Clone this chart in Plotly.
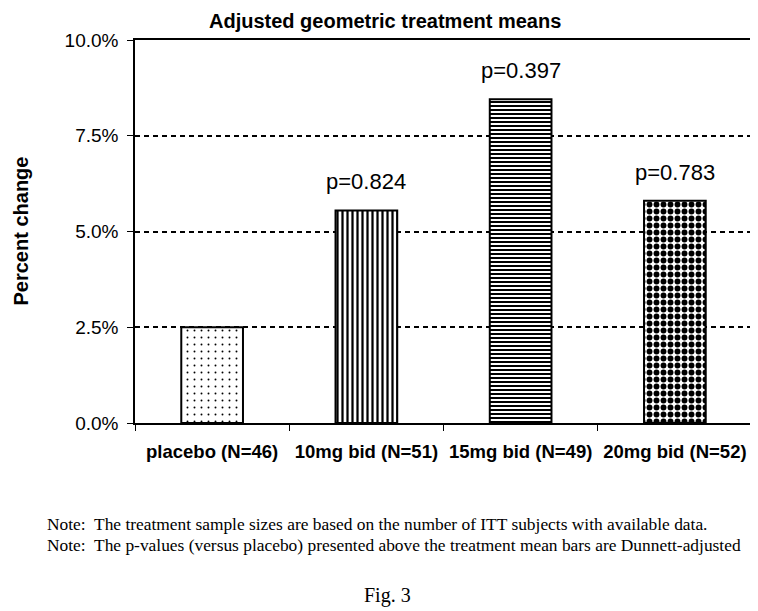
import plotly.graph_objects as go

# values
groups = ["placebo (N=46)", "10mg bid (N=51)", "15mg bid (N=49)", "20mg bid (N=52)"]
means = [2.5, 5.55, 8.45, 5.8]
pvals = ["", "p=0.824", "p=0.397", "p=0.783"]
yticks = [0, 2.5, 5.0, 7.5, 10.0]
ytext = ["%.1f%%" % v for v in yticks]
notes = [
    "Note:  The treatment sample sizes are based on the number of ITT subjects with available data.",
    "Note:  The p-values (versus placebo) presented above the treatment mean bars are Dunnett-adjusted",
]

# fill patterns per bar
shapes = [".", "|", "-", "."]
pat_size = [7, 5, 4, 7]
pat_solid = [0.06, 0.45, 0.5, 0.55]

# the page body has an 8px margin, so the figure sits at (8, 8) in the window
OFF = 8
W, H = 758 - OFF, 611 - OFF
L, R, T, B = 127, 6, 32, 188
pw = W - L - R
ph = H - T - B


def px_x(x):
    return (x - OFF - L) / pw


def px_y(y):
    return (H - B - (y - OFF)) / ph


bar = go.Bar(
    x=groups,
    y=means,
    marker=dict(
        color="white",
        line=dict(color="black", width=2),
        pattern=dict(shape=shapes, size=pat_size, solidity=pat_solid,
                     fgcolor="black", bgcolor="white", fillmode="replace"),
    ),
    hoverinfo="x+y",
)

annotations = []
for g, v, p in zip(groups, means, pvals):
    if p:
        annotations.append(dict(x=g, y=v, text=p, showarrow=False, yanchor="bottom",
                                xanchor="center", yshift=14,
                                font=dict(family="Liberation Sans", size=22, color="black")))

annotations.append(dict(xref="paper", yref="paper", x=px_x(385), y=px_y(21),
                        xanchor="center", yanchor="middle", borderpad=0,
                        text="<b>Adjusted geometric treatment means</b>", showarrow=False,
                        font=dict(family="Liberation Sans", size=20, color="black")))
annotations.append(dict(xref="paper", yref="paper", x=px_x(20), y=0.5, textangle=-90,
                        xanchor="center", yanchor="middle",
                        text="<b>Percent change</b>", showarrow=False,
                        font=dict(family="Liberation Sans", size=20, color="black")))
for i, n in enumerate(notes):
    annotations.append(dict(xref="paper", yref="paper", x=px_x(45), y=px_y(524 + 21 * i),
                            xanchor="left", yanchor="middle", text=n, showarrow=False,
                            font=dict(family="Liberation Serif", size=17.4, color="black")))
annotations.append(dict(xref="paper", yref="paper", x=px_x(387), y=px_y(595),
                        xanchor="center", yanchor="middle",
                        text="Fig. 3", showarrow=False,
                        font=dict(family="Liberation Serif", size=20, color="black")))

layout = go.Layout(
    width=W, height=H,
    margin=dict(l=L, r=R, t=T, b=B),
    paper_bgcolor="white", plot_bgcolor="white",
    showlegend=False,
    bargap=0.6,
    font=dict(family="Liberation Sans", color="black"),
    xaxis=dict(showline=True, linecolor="black", linewidth=1.5, mirror=True,
               ticks="outside", tickson="boundaries", ticklen=6, tickcolor="black",
               tickfont=dict(size=18.5, family="Liberation Sans"), tickangle=0,
               tickprefix="<b>", ticksuffix="</b>", ticklabelstandoff=11,
               showgrid=False, fixedrange=True, automargin=False),
    yaxis=dict(range=[0, 10], tickvals=yticks, ticktext=ytext,
               showline=True, linecolor="black", linewidth=1.5, mirror=True,
               ticks="outside", ticklen=6, tickcolor="black",
               tickfont=dict(size=19, family="Liberation Sans"), ticklabelstandoff=5,
               showgrid=True, gridcolor="black", gridwidth=2, griddash="5px,4px",
               zeroline=False, fixedrange=True, automargin=False),
    annotations=annotations,
)

fig = go.Figure(data=[bar], layout=layout)
fig.write_html("out.html")
